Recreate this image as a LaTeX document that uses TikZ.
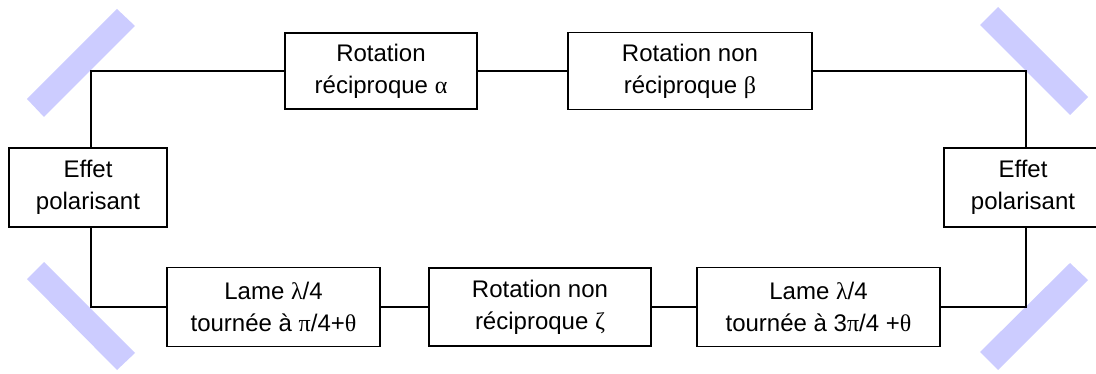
\documentclass[tikz,border=0pt]{standalone}
\usepackage{fontspec}
\setmainfont{Liberation Sans}
\newfontfamily\grk{Liberation Serif}
\newcommand{\gl}[1]{{\grk #1}}
\begin{document}
\begin{tikzpicture}[x=0.75pt,y=-0.75pt,
  blk/.style={draw=black,line width=1.3pt,fill=white,align=center,inner sep=0pt,
    font=\fontsize{18}{24}\selectfont},
  wire/.style={draw=black,line width=1.3pt},
  mirror/.style={fill={rgb,255:red,204;green,204;blue,255},draw=none}]
\useasboundingbox (0,0) rectangle (1096,374);
% mirrors
\fill[mirror] (27,99) -- (44,117) -- (135,26) -- (117,9) -- cycle;
\fill[mirror] (980,25) -- (998,7) -- (1088,97) -- (1070,115) -- cycle;
\fill[mirror] (27,279) -- (44,262) -- (135,353) -- (117,370) -- cycle;
\fill[mirror] (980,352) -- (998,370) -- (1088,280) -- (1070,263) -- cycle;
% corners
\coordinate (cTL) at (91,71);
\coordinate (cTR) at (1026,71);
\coordinate (cBL) at (91,307);
\coordinate (cBR) at (1026,307);
% blocks
\node[blk,minimum width=158*0.75pt,minimum height=79*0.75pt] (polL) at (88,187.5) {Effet\\polarisant};
\node[blk,minimum width=158*0.75pt,minimum height=79*0.75pt] (polR) at (1023,187.5) {Effet\\polarisant};
\node[blk,minimum width=192*0.75pt,minimum height=76*0.75pt] (rotA) at (381,71) {Rotation\\réciproque \gl{α}};
\node[blk,minimum width=244*0.75pt,minimum height=77*0.75pt] (rotB) at (690,71) {Rotation non\\réciproque \gl{β}};
\node[blk,minimum width=213*0.75pt,minimum height=79*0.75pt] (lame1) at (273.5,307) {Lame \gl{λ}/4\\tournée à \gl{π}/4+\gl{θ}};
\node[blk,minimum width=222*0.75pt,minimum height=78*0.75pt] (zeta) at (540,307) {Rotation non\\réciproque \gl{ζ}};
\node[blk,minimum width=243*0.75pt,minimum height=79*0.75pt] (lame2) at (818.5,307) {Lame \gl{λ}/4\\tournée à 3\gl{π}/4 +\gl{θ}};
% wires
\draw[wire] (polL.north -| cTL) -- (cTL) -- (rotA.west);
\draw[wire] (rotA.east) -- (rotB.west);
\draw[wire] (rotB.east) -- (cTR) -- (polR.north -| cTR);
\draw[wire] (polL.south -| cBL) -- (cBL) -- (lame1.west);
\draw[wire] (lame1.east) -- (zeta.west);
\draw[wire] (zeta.east) -- (lame2.west);
\draw[wire] (lame2.east) -- (cBR) -- (polR.south -| cBR);
\end{tikzpicture}
\end{document}
